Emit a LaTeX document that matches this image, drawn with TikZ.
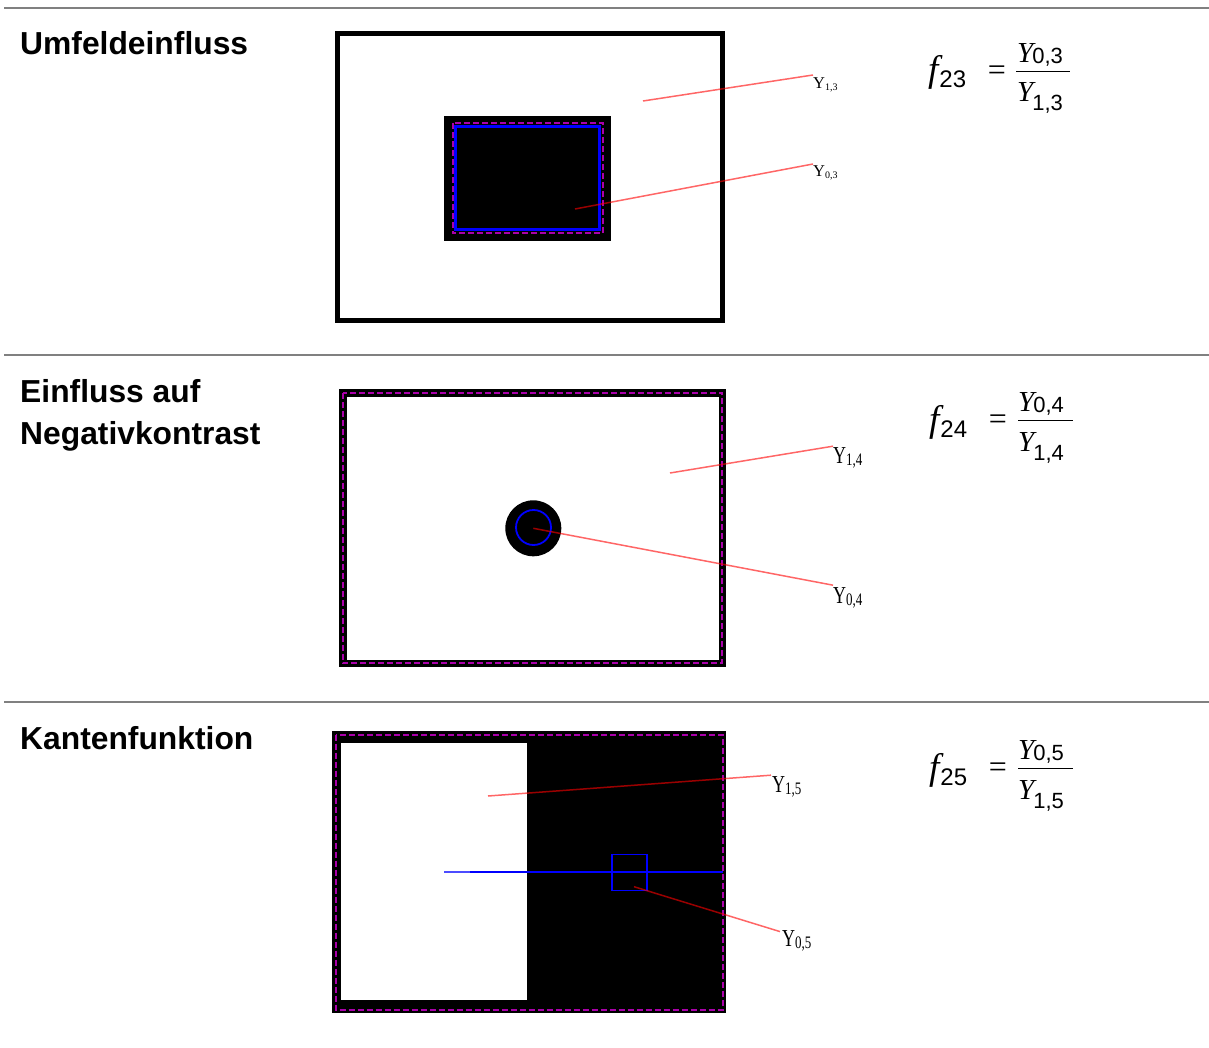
\documentclass[tikz,border=0pt]{standalone}
\usepackage{fontspec}
\usepackage{graphicx}
\setmainfont{Liberation Sans}
\newfontfamily\tms{Liberation Serif}
\definecolor{sepgray}{RGB}{128,128,128}
\definecolor{dpurple}{RGB}{170,0,170}
\newcommand{\fsub}[1]{{\tms\itshape\fontsize{37}{37}\selectfont f}\kern1pt\raisebox{-6pt}{\fontsize{24}{24}\selectfont #1}}
\newcommand{\yfrac}[2]{{\tms\itshape\fontsize{29}{29}\selectfont Y}\kern-1pt\raisebox{#2}{\fontsize{22}{22}\selectfont #1}}
\newcommand{\leadlab}[4]{\scalebox{1}[#4]{{\tms\fontsize{#2}{#2}\selectfont Y}\raisebox{-1.5pt}{\tms\fontsize{#3}{#3}\selectfont #1}}}
\begin{document}
\begin{tikzpicture}[x=1pt,y=-1pt,
  sepline/.style={draw=sepgray, line width=2pt},
  frame/.style={draw=black, line width=5pt},
  pdash/.style={draw=dpurple, line width=2pt, dash pattern=on 6pt off 3pt},
  leader/.style={draw=red, draw opacity=0.6, line width=1.5pt},
  title/.style={anchor=base west, inner sep=0pt, font=\bfseries\fontsize{31.8}{36}\selectfont},
  lab/.style={anchor=base west, inner sep=0pt},
  eqsign/.style={inner sep=0pt, font=\tms\fontsize{32}{32}\selectfont},
  fracbar/.style={draw=black, line width=1pt}]
\useasboundingbox (0,0) rectangle (1209,1048);
\fill[white] (0,0) rectangle (1209,1048);

% separators
\draw[sepline] (4,8) -- (1209,8);
\draw[sepline] (4,355) -- (1209,355);
\draw[sepline] (4,702) -- (1209,702);

% titles
\node[title] (t1) at (20,55) {Umfeldeinfluss};
\node[title] (t2a) at (20,402) {Einfluss auf};
\node[title] (t2b) at (20,444) {Negativkontrast};
\node[title] (t3) at (20,749) {Kantenfunktion};

% ---------- panel 1 ----------
\draw[frame] (337.5,33.5) rectangle (722.5,320.5);
\fill[black] (444,116) rectangle (610.5,241.5);
\draw[pdash] (452.5,123) rectangle (602.5,233.5);
\draw[draw=blue, line width=3pt] (455.5,126.5) rectangle (599.5,230);
\node[lab] (l13) at (813,89) {\leadlab{1,3}{16.5}{10}{1}};
\node[lab] (l03) at (813,177) {\leadlab{0,3}{16.5}{10}{1}};
\coordinate (s13) at (643,101);
\coordinate (s03) at (575,209);
\draw[leader] (s13) -- ([yshift=3pt]l13.north west);
\draw[leader] (s03) -- ([yshift=2pt]l03.north west);

% ---------- panel 2 ----------
\draw[draw=black, line width=7.5pt] (342.75,392.75) rectangle (722.25,663.25);
\draw[pdash] (342.75,392.75) rectangle (722.25,663.25);
\fill[black] (533.3,528.3) circle[radius=28];
\draw[draw=blue, line width=1.8pt] (533.5,527.5) circle[radius=17.5];
\node[lab] (l14) at (833,463.3) {\leadlab{1,4}{18}{13}{1.35}};
\node[lab] (l04) at (833,603.3) {\leadlab{0,4}{18}{13}{1.35}};
\coordinate (s14) at (670,473);
\coordinate (s04) at (533.3,528.3);
\draw[leader] (s14) -- ([yshift=1pt]l14.north west);
\draw[leader] (s04) -- ([yshift=2pt]l04.north west);

% ---------- panel 3 ----------
\fill[black] (332,731) rectangle (725.5,1013);
\fill[white] (341,743) rectangle (527,1000);
\draw[pdash] (335.5,734.5) rectangle (722.5,1009.5);
\draw[draw=blue!70, line width=2pt] (444,872.3) -- (470,872.3);
\draw[draw=blue, line width=2pt] (470,872.3) -- (723,872.3);
\draw[draw=blue, line width=1.5pt] (612,854.5) rectangle (647,890.5);
\node[lab] (l15) at (772,792.3) {\leadlab{1,5}{18}{13}{1.35}};
\node[lab] (l05) at (782,946.7) {\leadlab{0,5}{18}{13}{1.35}};
\coordinate (s15) at (488,796);
\coordinate (s05) at (634,886.7);
\draw[leader] (s15) -- ([xshift=-1pt,yshift=1pt]l15.north west);
\draw[leader] (s05) -- ([xshift=-2pt,yshift=-1pt]l05.north west);

% ---------- formulas ----------
\begin{scope}[shift={(-1,-349)}]
  \node[lab] (f23) at (929,431) {\fsub{23}};
  \node[eqsign] (e23) at (998,421.7) {=};
  \coordinate (b23a) at (1017,420.7);
  \coordinate (b23b) at (1071,420.7);
  \draw[fracbar] (b23a) -- (b23b);
  \node[lab] (n23) at (1018,411.7) {\yfrac{0,3}{-1pt}};
  \node[lab] (d23) at (1018,451) {\yfrac{1,3}{-9pt}};
\end{scope}
\begin{scope}
  \node[lab] (f24) at (929,431) {\fsub{24}};
  \node[eqsign] (e24) at (998,421.7) {=};
  \coordinate (b24a) at (1018,420.7);
  \coordinate (b24b) at (1073,420.7);
  \draw[fracbar] (b24a) -- (b24b);
  \node[lab] (n24) at (1018,411.7) {\yfrac{0,4}{-1pt}};
  \node[lab] (d24) at (1018,451) {\yfrac{1,4}{-9pt}};
\end{scope}
\begin{scope}[shift={(0,348)}]
  \node[lab] (f25) at (929,431) {\fsub{25}};
  \node[eqsign] (e25) at (998,421.7) {=};
  \coordinate (b25a) at (1018,420.7);
  \coordinate (b25b) at (1073,420.7);
  \draw[fracbar] (b25a) -- (b25b);
  \node[lab] (n25) at (1018,411.7) {\yfrac{0,5}{-1pt}};
  \node[lab] (d25) at (1018,451) {\yfrac{1,5}{-9pt}};
\end{scope}
\end{tikzpicture}
\end{document}
